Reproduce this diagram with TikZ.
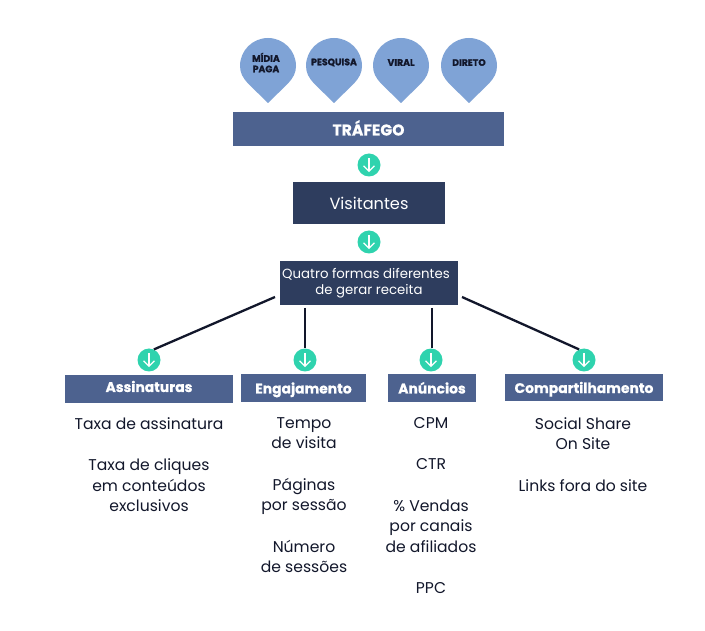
\documentclass[tikz,border=0pt]{standalone}
\usepackage{fontspec}
\setmainfont{Poppins}
\definecolor{pinc}{HTML}{7FA3D6}
\definecolor{bar}{HTML}{4D628F}
\definecolor{dark}{HTML}{2E3D5E}
\definecolor{tealc}{HTML}{2FD3AE}
\definecolor{ink}{HTML}{12172B}
\tikzset{x=1pt,y=-1pt,
 pinlabel/.style={font=\fontsize{9.3}{10.5}\selectfont\bfseries\addfontfeature{FakeBold=1.2},text=ink,align=center,inner sep=0pt},
 barbox/.style={fill=bar,text=white,font=\fontsize{13.9}{15}\selectfont\bfseries\addfontfeature{FakeBold=0.6},inner sep=0pt,anchor=center,text height=13pt,text depth=2pt},
 darkbox/.style={fill=dark,text=white,inner sep=0pt,align=center},
 body/.style={font=\fontsize{15.6}{20.7}\selectfont,text=ink,align=center,inner sep=0pt,anchor=north},
 dot/.style={circle,fill=tealc,minimum size=23pt,inner sep=0pt},
 conn/.style={draw=ink,line width=2.3pt},
 downarrow/.style={draw=white,line width=1.2pt}
}
\newcommand{\pinshape}[1]{%
 \fill[pinc] (#1,103) -- (#1-20,83.5) .. controls (#1-25,78) and (#1-28,73) .. (#1-28,66)
  arc[start angle=180,end angle=0,radius=28,y radius=-28] .. controls (#1+28,73) and (#1+25,78) .. (#1+20,83.5) -- cycle;}
\newcommand{\dotarrow}[1]{%
 \draw[downarrow] (#1.north)++(0,5) -- ++(0,13);
 \draw[downarrow] (#1.north)++(-5.5,12.5) -- ++(5.5,5.5) -- ++(5.5,-5.5);}
\begin{document}
\begin{tikzpicture}
\useasboundingbox (0,0) rectangle (705,631);
\fill[white] (0,0) rectangle (705,631);
\pinshape{268}\pinshape{334}\pinshape{401}\pinshape{469}
\node[pinlabel] (p1) at (266,62.5) {MÍDIA\\PAGA};
\node[pinlabel] (p2) at (334,62.5) {PESQUISA};
\node[pinlabel] (p3) at (401,62.5) {VIRAL};
\node[pinlabel] (p4) at (469,62.5) {DIRETO};
\node[barbox,minimum width=271pt,minimum height=34pt,font=\fontsize{15.6}{18}\selectfont\bfseries\addfontfeature{FakeBold=0.6}] (traf) at (368.5,129) {\raisebox{-1pt}{TRÁFEGO}};
\node[darkbox,minimum width=152pt,minimum height=42pt,font=\fontsize{16.2}{18}\selectfont] (vis) at (369,203) {\raisebox{-2.5pt}{Visitantes}};
\node[darkbox,minimum width=178pt,minimum height=44pt,font=\fontsize{13.3}{16.4}\selectfont] (q) at (369,283) {Quatro formas diferentes\hspace*{6pt}\\de gerar receita};
\node[dot] (d1) at (369,165) {};
\node[dot] (d2) at (369,242) {};
\node[dot] (a1) at (149,360) {};
\node[dot] (a2) at (305,360) {};
\node[dot] (a3) at (431,360) {};
\node[dot] (a4) at (584,360) {};
\foreach \n in {d1,d2,a1,a2,a3,a4}{\dotarrow{\n}}
\coordinate (s1) at (275,297);
\coordinate (s2) at (305,308);
\coordinate (s3) at (432,308);
\coordinate (s4) at (462,297);
\draw[conn] (s1) -- (a1.65);
\draw[conn] (s2) -- (a2);
\draw[conn] (s3) -- (a3.north -| s3);
\draw[conn] (s4) -- (a4.115);
\node[barbox,minimum width=168pt,minimum height=28pt] (b1) at (149,389) {\raisebox{2.5pt}{Assinaturas}};
\node[barbox,minimum width=125pt,minimum height=28pt] (b2) at (303.5,388) {Engajamento};
\node[barbox,minimum width=88pt,minimum height=28pt] (b3) at (432,388) {Anúncios};
\node[barbox,minimum width=158pt,minimum height=27pt] (b4) at (584,387.5) {Compartilhamento};
\node[body] (t1) at (149,417) {Taxa de assinatura\\[20.7pt]Taxa de cliques\\em conteúdos\\exclusivos};
\node[body] (t2) at (304,417) {Tempo\\de visita\\[20.7pt]Páginas\\por sessão\\[20.7pt]Número\\de sessões};
\node[body] (t3) at (431,417) {CPM\\[20.7pt]CTR\\[20.7pt]\% Vendas\\por canais\\de afiliados\\[20.7pt]PPC};
\node[body] (t4) at (583,417) {Social Share\\On Site\\[20.7pt]Links fora do site};
\end{tikzpicture}
\end{document}
